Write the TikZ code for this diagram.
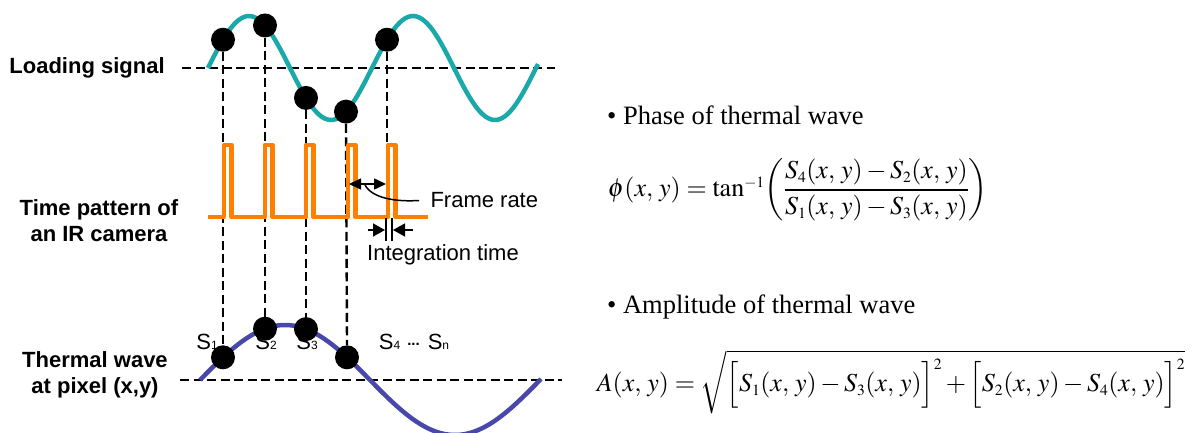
\documentclass[tikz,border=0pt]{standalone}
\usepackage{amsmath}
\usepackage{mathptmx}
\usepackage{fontspec}
\setmainfont{Liberation Serif}
\newfontfamily\arialfont{Liberation Sans}
\usetikzlibrary{arrows.meta,positioning}

\definecolor{loadteal}{HTML}{1AA8A8}
\definecolor{waveblue}{HTML}{4848AA}
\definecolor{camorange}{HTML}{FF8000}

\newcommand{\smp}[1]{S{\fontsize{12}{12}\selectfont #1}}
\newcommand{\tn}[1]{{\scriptscriptstyle #1}}

\begin{document}
\begin{tikzpicture}[x=1pt, y=-1pt,
    dot/.style={circle, fill=black, minimum size=24pt, inner sep=0pt},
    guide/.style={line width=2.4pt, dash pattern=on 9pt off 4.5pt},
    wave/.style={line width=4.5pt},
    sidelabel/.style={font=\arialfont\bfseries\fontsize{22}{26}\selectfont, align=center},
    note/.style={font=\arialfont\fontsize{22}{26}\selectfont},
    sample/.style={font=\arialfont\fontsize{22}{26}\selectfont, inner sep=0pt},
    dimarrow/.style={{Triangle[length=12pt,width=11pt]}-{Triangle[length=12pt,width=11pt]}, line width=1.5pt},
    bullet/.style={anchor=west, inner sep=0pt, font=\fontsize{26.5}{30}\selectfont},
    formula/.style={inner sep=0pt, font=\fontsize{26}{30}\selectfont}
]
\useasboundingbox (0,0) rectangle (1196,433);

% Baselines
\draw[guide] (182,68) -- (555,68);
\draw[guide] (180,380) -- (562,380);

% Loading signal and thermal wave
\draw[wave, loadteal] plot[domain=208:538, samples=120] (\x, {68-52*sin((\x-208)/164*360)});
\draw[wave, waveblue] plot[domain=200:541, samples=120] (\x, {380-55*sin((\x-200)/340*360)});

% Sample labels
\node[sample] (s1) at (207,342) {\smp{1}};
\node[sample] (s2) at (266,342) {\smp{2}};
\node[sample] (s3) at (307,342) {\smp{3}};
\node[sample] (s4) at (414,342) {\smp{4}\hspace{7pt}{\fontsize{15}{15}\selectfont\bfseries\raisebox{4pt}{...}}\hspace{8pt}\smp{n}};

% Sampling points
\foreach \i/\px in {1/223,2/265,3/306,4/346,5/387}
  \node[dot] (l\i) at (\px,{68-52*sin((\px-208)/164*360)}) {};
\foreach \i/\px in {1/223,2/265,3/306,4/347}
  \node[dot] (t\i) at (\px,{380-55*sin((\px-200)/340*360)}) {};

% Dashed drop lines
\coordinate (p5) at (387,143);
\foreach \i in {1,...,4}
  \draw[guide] (l\i.south) -- (t\i.north);
\draw[guide] (l5.south) -- (p5);

% Camera time pattern
\draw[line width=4.5pt, camorange, line join=round] (208,217)
  \foreach \px in {224,265,306,348,388} { -- (\px,217) -- (\px,145) -- (\px+7.5,145) -- (\px+7.5,217) }
  -- (428,217);

% Frame rate
\coordinate (fa) at (349,184);
\coordinate (fb) at (386,184);
\coordinate (fc) at (365,185);
\draw[dimarrow] (fa) -- (fb);
\node[note, anchor=west] (fr) at (427,200) {Frame rate};
\draw[line width=1.5pt, shorten >=8pt] (fc) .. controls (372,198) and (395,202) .. (fr.west);

% Integration time
\coordinate (ia) at (368,230);
\coordinate (ib) at (413,230);
\coordinate (ta) at (386,218);
\coordinate (tb) at (392,218);
\draw[line width=1.5pt] (ta) -- ++(0,23) (tb) -- ++(0,23);
\draw[line width=1.5pt, -{Triangle[length=12pt,width=13pt]}] (ia) -- ([xshift=-1pt]ta |- ia);
\draw[line width=1.5pt, -{Triangle[length=12pt,width=13pt]}] (ib) -- ([xshift=1pt]tb |- ib);
\node[note] (it) at (443,255) {Integration time};

% Row labels
\node[sidelabel] (load) at (87,68) {Loading signal};
\node[sidelabel] (cam) at (99,221) {Time pattern of\\an IR camera};
\node[sidelabel] (therm) at (95,375) {Thermal wave\\at pixel (x,y)};

% Phase
\node[bullet] (ph) at (607,115) {\textbullet\ Phase of thermal wave};
\node[formula] (phf) at (798,190)
  {$\phi(x,\,y) = \tan^{\tn{-1}}\biggl(\dfrac{S_\tn{4}(x,\,y)-S_\tn{2}(x,\,y)}{S_\tn{1}(x,\,y)-S_\tn{3}(x,\,y)}\biggr)$};

% Amplitude
\node[bullet] (am) at (607,307) {\textbullet\ Amplitude of thermal wave};
\node[formula] (amf) at (891,382)
  {$A(x,\,y) = \sqrt{\Bigl[S_\tn{1}(x,\,y)-S_\tn{3}(x,\,y)\Bigr]^\tn{2}+\Bigl[S_\tn{2}(x,\,y)-S_\tn{4}(x,\,y)\Bigr]^\tn{2}}$};
\end{tikzpicture}
\end{document}
